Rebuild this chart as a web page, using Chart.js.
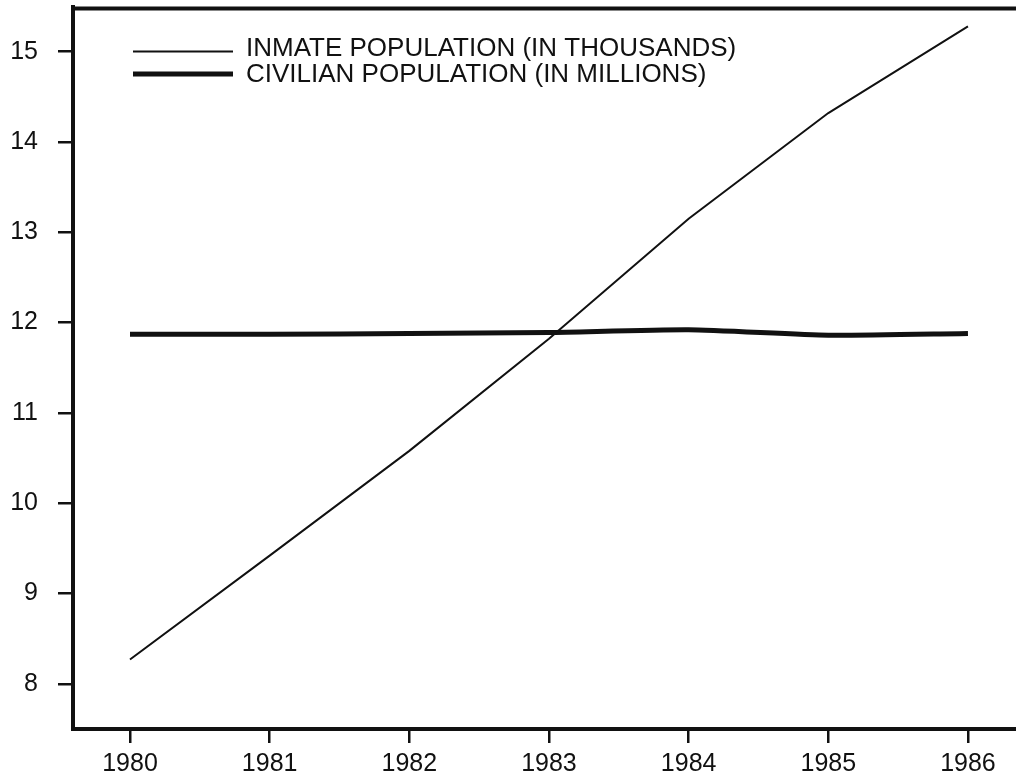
<!DOCTYPE html>
<html>
<head>
<meta charset="utf-8">
<script src="https://cdn.jsdelivr.net/npm/chart.js@4"></script>
<style>
  html, body { margin: 0; padding: 0; background: #fff; }
  canvas { display: block; }
</style>
</head>
<body>
<canvas id="c" width="1016" height="779"></canvas>
<script>
const years = [1980, 1981, 1982, 1983, 1984, 1985, 1986];
const inmatePopulation = [8.27, 9.42, 10.58, 11.82, 13.15, 14.32, 15.28];
const civilianPopulation = [11.87, 11.87, 11.88, 11.89, 11.92, 11.86, 11.88];
const yTickValues = [8, 9, 10, 11, 12, 13, 14, 15];
const seriesLabels = ['INMATE POPULATION (IN THOUSANDS)', 'CIVILIAN POPULATION (IN MILLIONS)'];

const INK = '#111';
const FONT = "'Liberation Sans', Arial, Helvetica, sans-serif";

const toPoints = arr => years.map((yr, i) => ({ x: yr, y: arr[i] }));

const frameAndLegend = {
  id: 'frameAndLegend',
  afterDraw(chart) {
    const ctx = chart.ctx;
    const a = chart.chartArea;
    ctx.save();
    // top frame line
    ctx.strokeStyle = INK;
    ctx.lineWidth = 4;
    ctx.beginPath();
    ctx.moveTo(a.left - 2, a.top + 2);
    ctx.lineTo(chart.width, a.top + 2);
    ctx.stroke();
    // legend inside plot
    const rows = [
      { ds: chart.data.datasets[0], lineY: a.top + 45, textY: a.top + 41 },
      { ds: chart.data.datasets[1], lineY: a.top + 67.5, textY: a.top + 67 }
    ];
    ctx.font = '26px ' + FONT;
    ctx.textBaseline = 'middle';
    ctx.textAlign = 'left';
    rows.forEach(r => {
      ctx.strokeStyle = r.ds.borderColor;
      ctx.lineWidth = r.ds.borderWidth;
      ctx.beginPath();
      ctx.moveTo(a.left + 60, r.lineY);
      ctx.lineTo(a.left + 160, r.lineY);
      ctx.stroke();
      ctx.fillStyle = INK;
      ctx.fillText(r.ds.label, a.left + 173, r.textY + 1);
    });
    ctx.restore();
  }
};

new Chart(document.getElementById('c'), {
  type: 'line',
  data: {
    datasets: [
      {
        label: seriesLabels[0],
        data: toPoints(inmatePopulation),
        borderColor: INK,
        borderWidth: 2,
        pointRadius: 0,
        tension: 0,
        fill: false
      },
      {
        label: seriesLabels[1],
        data: toPoints(civilianPopulation),
        borderColor: INK,
        borderWidth: 5,
        pointRadius: 0,
        tension: 0.2,
        fill: false
      }
    ]
  },
  options: {
    responsive: false,
    animation: false,
    layout: { padding: { top: 6.5, right: 0, left: 0, bottom: 0 } },
    plugins: {
      legend: { display: false },
      tooltip: { enabled: false },
      title: { display: false }
    },
    scales: {
      x: {
        type: 'linear',
        min: 1979.592,
        max: 1986.344,
        afterFit: s => { s.height = 50; s.paddingLeft = 0; s.paddingRight = 0; },
        afterBuildTicks: s => { s.ticks = years.map(v => ({ value: v })); },
        border: { display: true, color: INK, width: 4 },
        grid: { display: true, drawOnChartArea: false, drawTicks: true, tickLength: 14, color: INK, lineWidth: 2.5 },
        ticks: {
          color: INK,
          font: { family: FONT, size: 25 },
          padding: 6,
          maxRotation: 0,
          autoSkip: false,
          callback: v => String(v)
        }
      },
      y: {
        type: 'linear',
        min: 7.5,
        max: 15.5,
        afterFit: s => { s.width = 73; s.paddingTop = 0; s.paddingBottom = 0; },
        afterBuildTicks: s => { s.ticks = yTickValues.map(v => ({ value: v })); },
        border: { display: true, color: INK, width: 4 },
        grid: { display: true, drawOnChartArea: false, drawTicks: true, tickLength: 15, color: INK, lineWidth: 2.5 },
        ticks: {
          color: INK,
          font: { family: FONT, size: 25 },
          padding: 20,
          autoSkip: false,
          callback: v => String(v)
        }
      }
    }
  },
  plugins: [frameAndLegend]
});
</script>
</body>
</html>
